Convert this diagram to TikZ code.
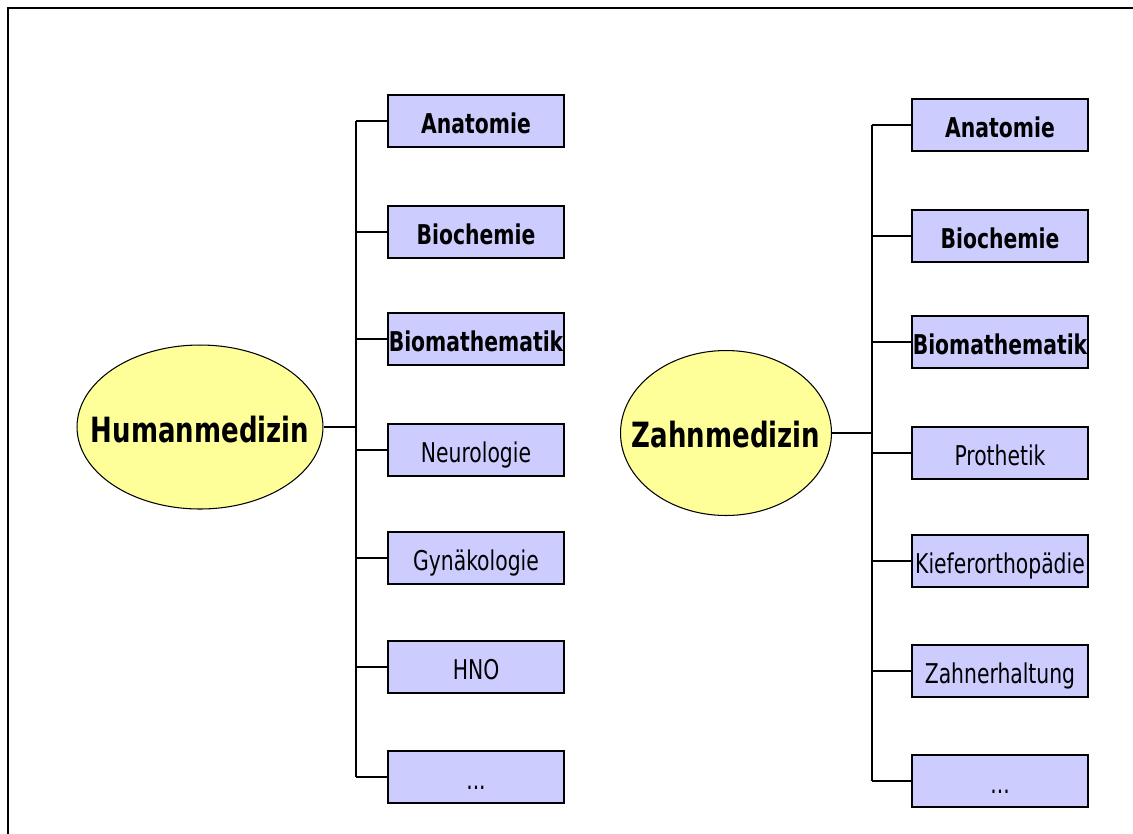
\documentclass[tikz,border=0pt]{standalone}
\usepackage{fontspec}
\setmainfont{DejaVu Sans Condensed}[FakeStretch=0.83]
\usepackage{tikz}
\usetikzlibrary{shapes.geometric, positioning, calc}
\definecolor{fachBlau}{RGB}{204,204,255}
\definecolor{studGelb}{RGB}{255,255,153}
\newcommand{\weitere}{...}

\tikzset{
    fach/.style={draw, line width=0.6pt, fill=fachBlau, minimum width=3.52cm, minimum height=1.04cm,
        inner sep=0pt, text height=15pt, text depth=1pt, font=\fontsize{15.5}{18}\selectfont},
    studium/.style={draw, line width=0.6pt, fill=studGelb, ellipse, inner sep=0pt},
    studtext/.style={font=\fontsize{19.8}{24}\selectfont\bfseries},
    ast/.style={line width=0.6pt},
}

\begin{document}
\begin{tikzpicture}[x=0.02cm, y=-0.02cm]
    \useasboundingbox (0,0) rectangle (1133,833);
    % frame, only left and top edge visible
    \draw[line width=0.9pt] (8,845) -- (8,8) -- (1145,8);
    % Humanmedizin
    \node[studium, minimum width=4.92cm, minimum height=3.28cm] (hm) at (200,427) {};
    \node[studtext] (hmtext) at (200,430) {Humanmedizin};
    \coordinate (hmtrunk) at (356,0);
    \foreach \i/\y/\lab/\f in {1/121/Anatomie/\bfseries, 2/232/Biochemie/\bfseries, 3/339/Biomathematik/\bfseries,
        4/450/Neurologie/\relax, 5/558/Gynäkologie/\relax, 6/667/HNO/\relax, 7/777/\weitere/\relax} {
        \node[fach] (hm\i) at (476,\y) {\f\lab};
        \draw[ast] (hm\i.west) -- (hm\i.west -| hmtrunk);
    }
    \draw[ast] (hm1.west -| hmtrunk) -- (hm7.west -| hmtrunk);
    \draw[ast] (hm.east) -- (hm.east -| hmtrunk);
    % Zahnmedizin
    \node[studium, minimum width=4.22cm, minimum height=3.30cm] (zm) at (726,433) {};
    \node[studtext] (zmtext) at (726,435) {Zahnmedizin};
    \coordinate (zmtrunk) at (872,0);
    \foreach \i/\y/\lab/\f in {1/125/Anatomie/\bfseries, 2/236/Biochemie/\bfseries, 3/342/Biomathematik/\bfseries,
        4/453/Prothetik/\relax, 5/561/Kieferorthopädie/\relax, 6/671/Zahnerhaltung/\relax, 7/781/\weitere/\relax} {
        \node[fach] (zm\i) at (1000,\y) {\f\lab};
        \draw[ast] (zm\i.west) -- (zm\i.west -| zmtrunk);
    }
    \draw[ast] (zm1.west -| zmtrunk) -- (zm7.west -| zmtrunk);
    \draw[ast] (zm.east) -- (zm.east -| zmtrunk);
\end{tikzpicture}
\end{document}
